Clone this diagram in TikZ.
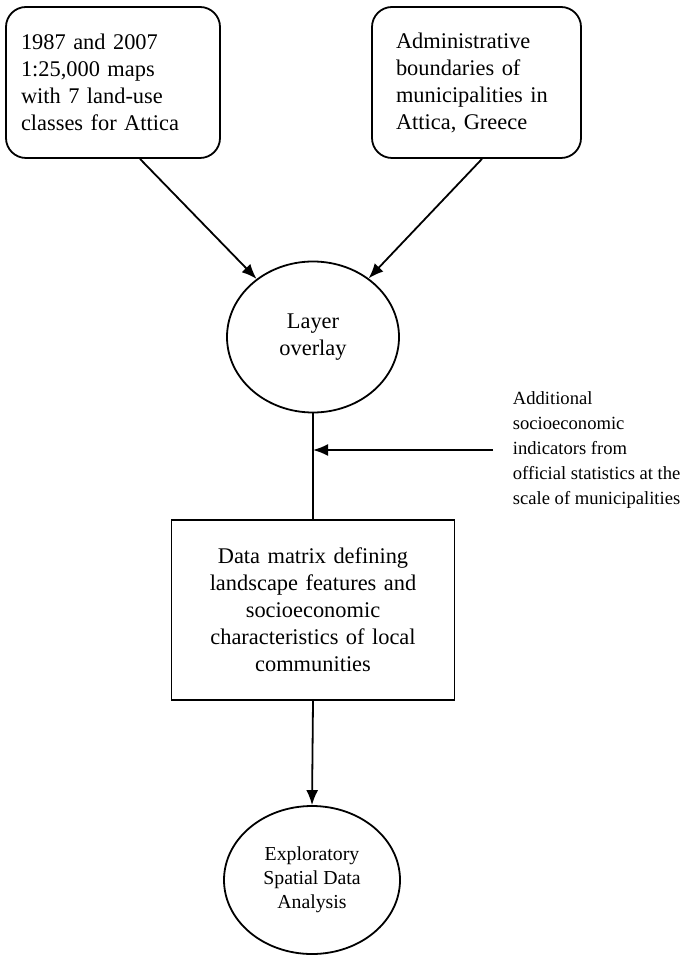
\documentclass[tikz,border=0pt]{standalone}
\usepackage{fontspec}
\setmainfont{Liberation Serif}
\usetikzlibrary{positioning,shapes.geometric,arrows.meta}

\begin{document}
\begin{tikzpicture}[x=0.5pt,y=-0.5pt,
line width=0.9pt,
>={Latex[length=7.5pt,width=6pt]},
srcbox/.style={draw,rectangle,rounded corners=10pt,minimum height=75.5pt,align=left,
    font=\fontsize{11.2}{13.5}\selectfont},
stepoval/.style={draw,ellipse,inner sep=0pt,align=center},
matbox/.style={draw,rectangle,minimum width=141.5pt,minimum height=90pt,text width=120pt,align=center,
    font=\fontsize{11.2}{13.5}\selectfont}]
\useasboundingbox (0,0) rectangle (686,956);
\node (maps) [srcbox,text width=92pt,inner xsep=7.5pt] at (113,82.5)
    {1987 and 2007\\ 1:25,000 maps\\ with 7 land-use\\ classes for Attica};
\node (bounds) [srcbox,text width=80.5pt,inner xsep=12pt] at (476.5,82.5)
    {Administrative\\ boundaries of\\ municipalities in\\ Attica, Greece};
\node (overlay) [stepoval,minimum width=86pt,minimum height=75.5pt,
    font=\fontsize{11.2}{13.5}\selectfont] at (313,337) {Layer\\ overlay};
\node (datam) [matbox] at (313,610)
    {Data matrix defining\\ landscape features and\\ socioeconomic\\ characteristics of local\\ communities};
\node (esda) [stepoval,minimum width=88pt,minimum height=74pt,
    font=\fontsize{9.9}{12}\selectfont] at (312,880) {Exploratory\\ Spatial Data\\ Analysis};
\node (stats) [anchor=north west,inner sep=2.5pt,align=left,
    font=\fontsize{9.3}{12.5}\selectfont] at (507,386)
    {Additional\\ socioeconomic\\ indicators from\\ official statistics at the\\ scale of municipalities};
\coordinate (statsin) at (493,450);
\draw[->] ([xshift=13.5pt]maps.south) -- (overlay);
\draw[->] ([xshift=2.75pt]bounds.south) -- (overlay);
\draw (overlay.south) -- (datam.north);
\draw[->] (statsin) -- (statsin -| overlay.south);
\draw[->] (datam.south) -- (esda.north);
\end{tikzpicture}
\end{document}
